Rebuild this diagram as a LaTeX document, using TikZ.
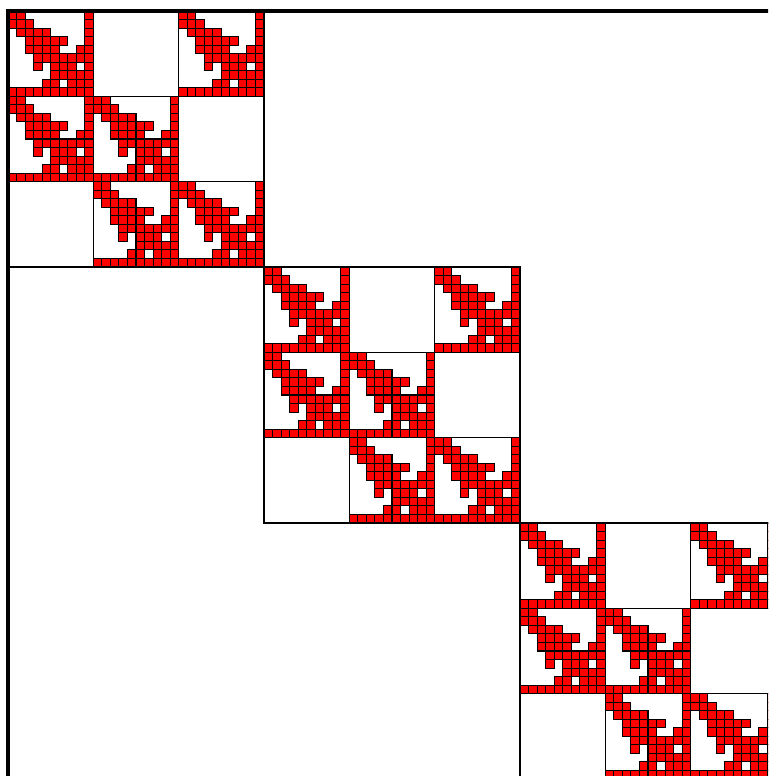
\documentclass[tikz,border=0pt]{standalone}
\usepackage{xcolor}
\tikzset{
  cellbox/.style={draw=black, fill=red, line width=1.05pt},
  innerframe/.style={draw=black, line width=1.6pt},
  midframe/.style={draw=black, line width=2.2pt},
  outerframe/.style={draw=black, line width=3.2pt}
}
\newcommand{\cellw}{8.5333}
\newcommand{\innerw}{85.3333}
\newcommand{\midw}{256}
% one 10x10 block of cells, top left corner at (#1,#2)
\newcommand{\cellblock}[2]{
  \foreach \rw/\cols in {0/{0,1,9},1/{0,1,2,9},2/{1,2,3,4,9},3/{2,3,4,5,6,9},
      4/{2,3,4,5,8,9},5/{3,4,5,6,7,8,9},6/{3,5,6,7,9},7/{5,6,7,8,9},
      8/{4,5,7,8,9},9/{0,1,2,3,4,5,6,7,8,9}}
    \foreach \cl in \cols
      \draw[cellbox] ({#1+\cl*\cellw},{#2+\rw*\cellw}) rectangle ++(\cellw,\cellw);
  \draw[innerframe] (#1,#2) rectangle ++(\innerw,\innerw);
}
\begin{document}
\begin{tikzpicture}[x=1pt,y=-1pt]
  \clip (0,0) rectangle (768,776);

  % diagonal blocks
  \foreach \m in {0,1,2} {
    \pgfmathsetmacro{\mx}{8+\m*\midw}
    \pgfmathsetmacro{\my}{11+\m*\midw}
    \foreach \rw/\cl in {0/0,0/2,1/0,1/1,2/1,2/2} {
      \pgfmathsetmacro{\bx}{\mx+\cl*\innerw}
      \pgfmathsetmacro{\by}{\my+\rw*\innerw}
      \cellblock{\bx}{\by}
    }
    \draw[midframe] (\mx,\my) rectangle ++(\midw,\midw);
  }

  % outer frame
  \draw[outerframe] (8,11) rectangle ++(768,768);
\end{tikzpicture}
\end{document}
